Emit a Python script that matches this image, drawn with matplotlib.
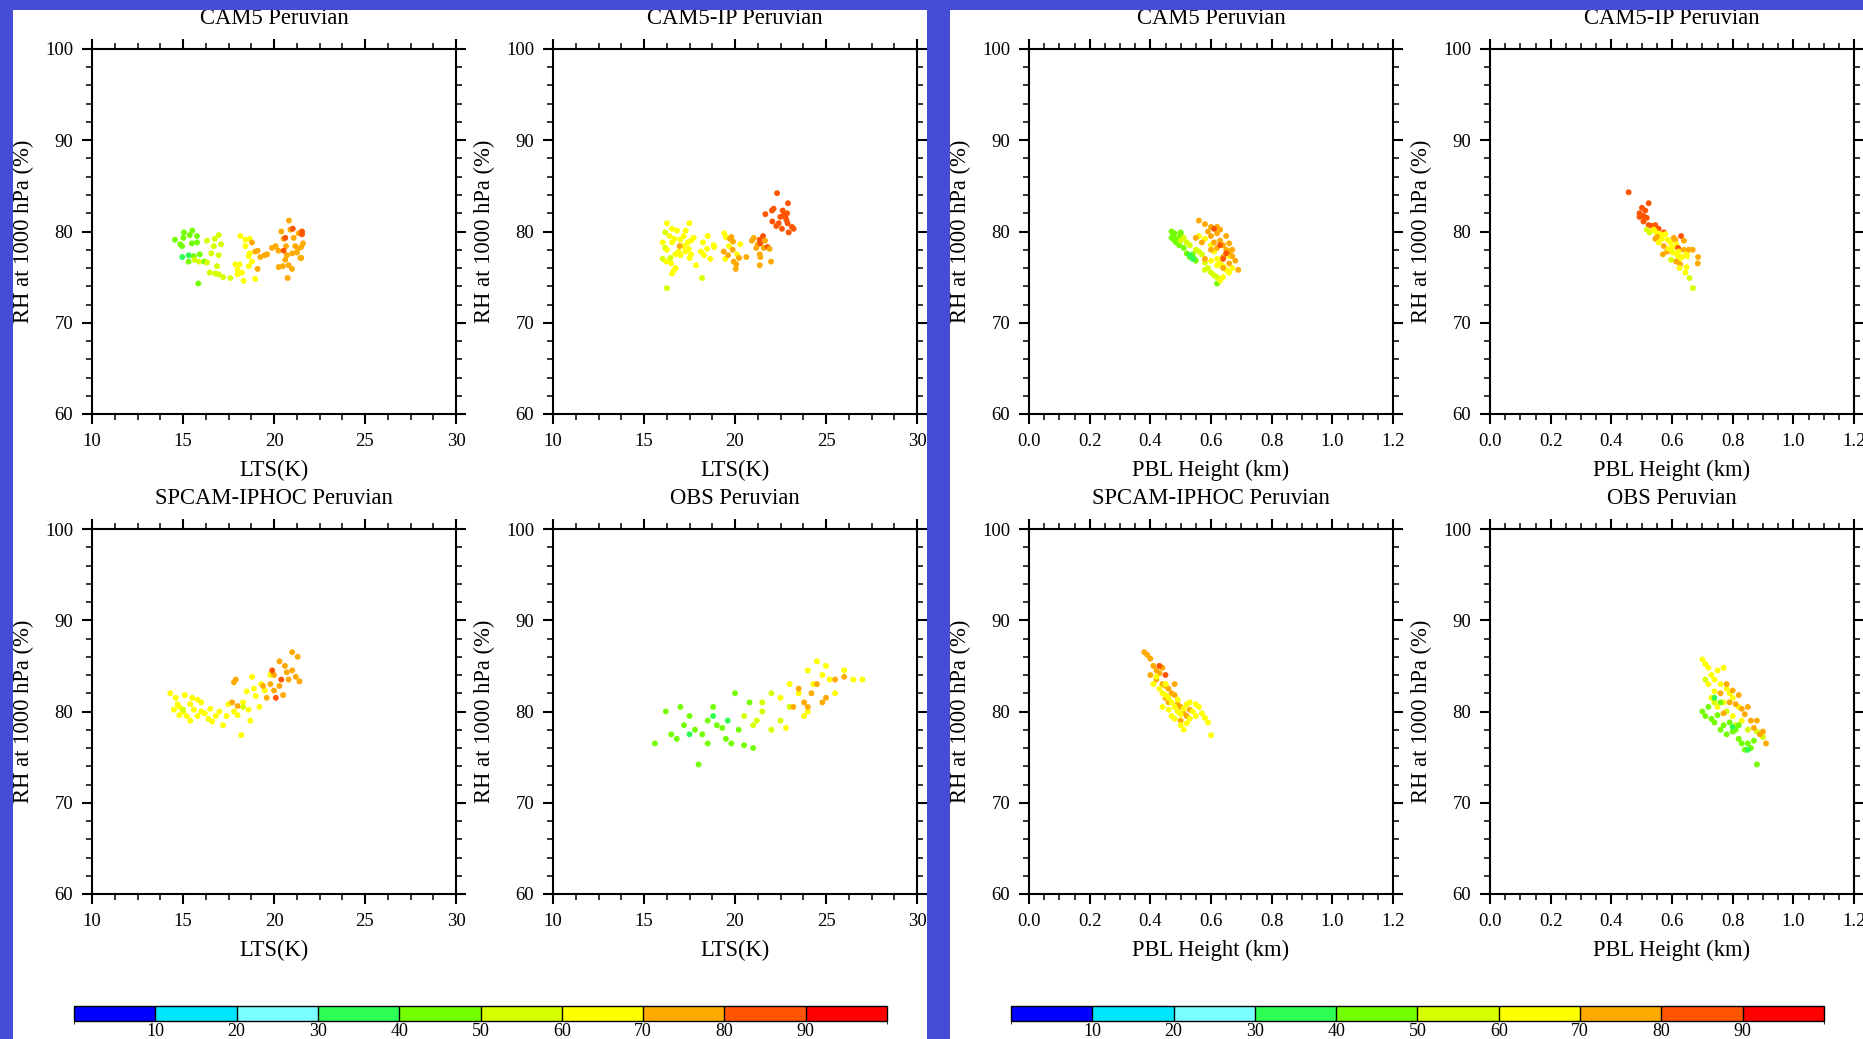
import numpy as np
import matplotlib
matplotlib.use("Agg")
import matplotlib.pyplot as plt
from matplotlib.colors import ListedColormap, BoundaryNorm
from matplotlib.patches import Rectangle
import matplotlib.cm as cm

# ---------------- data ----------------
# colour value (%) of each point, binned by 10 on the shared colour bar
cam5_lts = [14.56, 15.02, 15.05, 14.95, 14.85, 15.51, 15.37, 15.77, 15.49, 15.77, 14.96, 15.31, 15.31, 15.59, 15.92, 16.17, 15.84,
            15.64, 15.88, 16.32, 16.32, 16.74, 16.96, 16.69, 16.56, 17.09, 16.96, 16.47, 16.78, 16.87, 16.96, 17.20, 17.60,
            18.15, 18.43, 18.43, 18.66, 17.88, 18.11, 18.00, 18.24, 18.33, 18.61, 18.61, 18.79, 18.97, 18.00, 18.66,
            18.79, 18.97, 19.10, 19.10, 19.25, 19.49, 19.62, 19.89, 20.09, 20.24, 20.40, 20.53, 20.66, 20.71, 20.49, 20.26,
            20.62, 20.81, 20.75, 20.82, 20.90, 21.08, 21.17, 21.26, 21.36, 20.99, 21.45, 21.50, 21.59, 21.32, 21.50, 21.00,
            21.03, 20.62, 20.53, 21.54, 21.54]
cam5_lts_rh = [79.1, 79.3, 79.9, 78.4, 78.6, 80.1, 79.6, 79.5, 78.7, 78.8, 77.2, 77.4, 76.7, 77.3, 77.5, 76.7, 74.3,
               76.9, 76.7, 76.6, 79.0, 79.2, 79.6, 78.4, 77.6, 78.6, 77.4, 75.5, 75.4, 76.2, 75.3, 75.0, 74.9,
               79.5, 79.1, 78.4, 79.2, 76.4, 76.4, 75.8, 75.5, 74.6, 77.3, 76.2, 76.7, 74.8, 75.3, 77.6,
               78.8, 77.8, 77.9, 75.9, 77.2, 77.4, 77.5, 78.2, 78.4, 77.9, 80.0, 79.2, 78.4, 77.4, 76.2, 76.1,
               76.9, 76.3, 74.9, 81.2, 80.2, 79.3, 78.4, 77.7, 79.8, 75.9, 77.1, 78.3, 78.7, 78.1, 77.1, 77.6,
               80.3, 79.3, 77.9, 80.0, 79.7]
cam5_lts_cf = [45, 45, 45, 45, 45, 45, 45, 45, 45, 45, 35, 35, 45, 45, 45, 45, 45,
               55, 55, 55, 55, 55, 55, 55, 55, 55, 55, 55, 55, 55, 55, 55, 55,
               65, 65, 65, 65, 65, 65, 65, 65, 65, 65, 65, 65, 65, 65, 65,
               75, 75, 75, 75, 75, 75, 75, 75, 75, 75, 75, 75, 75, 75, 75, 75,
               75, 75, 75, 75, 75, 75, 75, 75, 75, 75, 75, 75, 75, 75, 75, 75,
               85, 85, 85, 85, 85]

cam5ip_lts = [16.26, 16.17, 16.54, 16.81, 16.03, 16.17, 16.26, 16.41, 16.54, 16.67, 17.00, 17.18, 17.29, 17.49, 17.40, 17.58,
              17.73, 17.18, 16.90, 16.72, 17.00, 17.27, 17.45, 17.51, 17.58, 16.03, 16.23, 16.45, 16.50, 16.74, 16.63, 16.54,
              16.26, 17.86, 18.19, 18.24, 18.50, 18.46, 18.30, 18.64, 18.13, 18.83, 18.86,
              16.96, 19.41, 19.49, 19.38, 19.47, 19.62, 19.71, 19.80, 19.89, 19.67, 19.87, 19.93, 20.07, 20.04, 20.11, 20.29,
              20.22, 20.62, 20.93, 21.03, 21.17, 21.25, 21.36, 21.39, 21.54, 21.65, 21.58, 21.36, 21.39, 21.36, 21.79, 21.90,
              21.98,
              21.67, 22.03, 22.12, 22.31, 22.05, 22.27, 22.40, 22.49, 22.62, 22.67, 22.77, 22.86, 22.91, 22.89, 22.58, 22.95,
              23.13, 23.22, 22.82]
cam5ip_lts_rh = [80.9, 79.9, 80.3, 80.1, 78.8, 78.2, 78.0, 79.5, 78.8, 79.2, 79.1, 79.5, 80.1, 80.9, 78.8, 79.0,
                 79.3, 78.4, 77.8, 77.5, 77.4, 77.8, 78.1, 77.1, 77.5, 77.0, 76.7, 77.1, 76.5, 76.0, 75.7, 75.4,
                 73.8, 76.3, 74.9, 78.8, 79.5, 78.1, 77.4, 77.0, 77.8, 78.5, 78.3,
                 78.4, 79.8, 79.4, 77.8, 77.0, 77.4, 79.2, 79.4, 78.9, 78.4, 78.0, 76.7, 76.4, 75.9, 77.5, 78.6,
                 77.1, 77.2, 79.0, 79.3, 78.2, 78.6, 79.1, 78.7, 79.5, 79.0, 78.2, 77.5, 77.2, 76.3, 78.3, 78.1,
                 76.7,
                 81.9, 82.3, 82.5, 84.2, 81.1, 80.6, 80.9, 81.6, 82.3, 81.8, 81.6, 82.0, 83.1, 80.9, 80.3, 79.9,
                 80.5, 80.3, 81.3]
cam5ip_lts_cf = [65, 55, 65, 65, 65, 55, 65, 65, 65, 65, 65, 65, 65, 65, 65, 65,
                 65, 65, 65, 65, 65, 65, 65, 65, 65, 55, 65, 55, 65, 65, 65, 65,
                 55, 65, 55, 65, 65, 65, 65, 65, 65, 65, 65,
                 75, 65, 65, 75, 65, 75, 75, 75, 75, 65, 75, 75, 75, 75, 65, 65,
                 75, 75, 75, 75, 75, 75, 85, 85, 85, 75, 75, 75, 75, 75, 85, 75,
                 75,
                 85, 85, 85, 85, 85, 85, 85, 85, 85, 85, 85, 85, 85, 85, 85, 85,
                 85, 85, 85]

spcam_lts = [14.3, 14.6, 14.8, 15.0, 15.2, 15.1, 15.4, 15.6, 15.8, 16.0, 16.2, 16.5, 16.8, 17.0, 17.2, 16.6, 15.4, 14.5,
             14.8, 15.8, 17.5, 17.8, 18.0, 18.3, 18.5, 18.8, 19.0, 19.3, 18.2, 18.6, 19.5, 19.8,
             15.5, 16.0, 14.7, 16.4, 17.4, 18.9, 19.2, 18.7,
             17.8, 17.9, 17.7, 18.0, 19.8, 20.0, 20.3, 20.5, 20.6, 20.8, 21.0, 21.0, 21.3, 20.3, 20.0, 21.2, 19.6,
             19.4, 20.7, 21.4,
             20.1, 19.9, 20.4, 15.0, 18.3]
spcam_lts_rh = [82.0, 81.5, 80.5, 80.0, 79.5, 81.8, 80.8, 80.2, 81.3, 80.0, 79.8, 80.3, 79.5, 80.0, 78.5, 78.9, 79.0, 80.2,
                79.6, 79.5, 80.8, 80.0, 79.6, 81.0, 82.2, 83.8, 81.7, 83.0, 77.4, 80.2, 82.3, 84.0,
                81.5, 81.0, 80.8, 79.2, 79.5, 82.5, 80.5, 79.0,
                83.2, 83.5, 81.0, 80.6, 83.0, 84.0, 82.8, 81.8, 85.0, 83.5, 84.5, 86.5, 86.0, 85.5, 82.3, 83.8, 81.5,
                82.8, 84.3, 83.3,
                81.5, 84.5, 83.5, 80.2, 80.5]
spcam_lts_cf = [65] * 40 + [75] * 20 + [85] * 3 + [55] * 2

obs_lts = [15.6, 16.2, 16.5, 16.8, 17.2, 17.5, 17.8, 18.0, 18.2, 18.5, 18.8, 19.0, 19.3, 19.5, 19.8, 20.0, 20.2, 20.5,
           20.8, 21.0, 18.5, 17.0, 17.5, 18.8, 19.6,
           20.5, 21.0, 21.5, 21.5, 22.0, 22.5, 23.0, 22.0, 21.2,
           22.5, 23.0, 23.5, 24.0, 24.5, 24.8, 25.2, 24.0, 25.5, 26.0, 26.5, 27.0, 23.8, 22.8, 24.3, 25.0,
           23.5, 23.8, 24.2, 24.5, 25.0, 25.5, 26.0, 24.8, 24.0, 23.2]
obs_lts_rh = [76.5, 80.0, 77.5, 77.0, 78.5, 79.5, 78.0, 74.2, 77.5, 79.0, 80.5, 78.5, 78.2, 77.0, 76.5, 82.0, 78.0, 76.3,
              81.0, 76.0, 76.5, 80.5, 77.5, 79.5, 79.0,
              79.5, 78.5, 80.0, 81.0, 78.0, 79.0, 80.5, 82.0, 79.0,
              81.5, 83.0, 82.0, 84.5, 85.5, 84.0, 83.5, 80.0, 82.0, 84.5, 83.5, 83.5, 79.5, 78.2, 83.0, 85.0,
              82.5, 81.0, 82.0, 83.0, 81.5, 83.5, 83.8, 81.0, 80.5, 80.5]
obs_lts_cf = [45] * 22 + [35] * 3 + [55] * 9 + [65] * 16 + [75] * 10

cam5_pbl = [0.47, 0.48, 0.475, 0.49, 0.485, 0.50, 0.48, 0.495, 0.51, 0.52, 0.53, 0.54, 0.545, 0.55, 0.62, 0.50, 0.47,
            0.53, 0.54,
            0.50, 0.52, 0.51, 0.53, 0.55, 0.56, 0.57, 0.58, 0.60, 0.61, 0.62, 0.59, 0.58,
            0.56, 0.58, 0.60, 0.62, 0.63, 0.64, 0.65, 0.66, 0.64, 0.63, 0.67, 0.62, 0.66, 0.61, 0.60,
            0.56, 0.58, 0.60, 0.59, 0.60, 0.62, 0.63, 0.61, 0.64, 0.65, 0.62, 0.66, 0.67, 0.68, 0.69, 0.64, 0.57, 0.55,
            0.60, 0.63, 0.65, 0.66, 0.67, 0.62, 0.58, 0.64, 0.66,
            0.61, 0.63, 0.65, 0.64]
cam5_pbl_rh = [80.0, 79.8, 79.5, 79.2, 78.8, 79.6, 79.0, 78.5, 78.2, 77.6, 77.2, 77.5, 77.0, 76.8, 74.3, 79.9, 79.3,
               77.4, 77.0,
               79.0, 78.8, 79.3, 78.5, 78.0, 77.8, 77.5, 76.6, 75.5, 75.2, 75.0, 76.0, 75.8,
               79.5, 79.2, 78.5, 77.0, 76.5, 76.2, 75.8, 75.5, 75.0, 74.6, 76.0, 76.3, 77.3, 77.8, 76.8,
               81.2, 80.8, 80.5, 80.0, 79.5, 79.8, 79.0, 78.8, 78.5, 78.0, 78.2, 77.8, 77.3, 76.8, 75.8, 77.2, 78.8, 79.3,
               78.0, 80.2, 79.5, 78.7, 78.0, 80.5, 77.0, 76.0, 76.5,
               80.3, 78.5, 77.6, 77.0]
cam5_pbl_cf = [45] * 17 + [35] * 2 + [55] * 13 + [65] * 15 + [75] * 27 + [85] * 4

cam5ip_pbl = [0.457, 0.523, 0.501, 0.512, 0.493, 0.506, 0.493, 0.517, 0.506, 0.523, 0.534, 0.545, 0.556, 0.573,
              0.517, 0.526, 0.540, 0.548, 0.562, 0.578, 0.551, 0.545, 0.567, 0.556, 0.573, 0.570, 0.584, 0.586,
              0.595, 0.600, 0.606, 0.611, 0.614, 0.603, 0.597, 0.617, 0.620, 0.622, 0.630, 0.639, 0.639, 0.648,
              0.650, 0.633, 0.622, 0.614, 0.627, 0.625, 0.648, 0.644, 0.658, 0.669, 0.655, 0.668, 0.686, 0.685, 0.589]
cam5ip_pbl_rh = [84.3, 83.1, 82.6, 82.3, 82.0, 81.7, 81.6, 81.5, 81.1, 80.7, 80.6, 80.7, 80.3, 79.9,
                 80.2, 79.9, 80.2, 79.9, 79.7, 79.7, 79.4, 79.2, 79.2, 78.8, 78.4, 77.5, 77.8, 79.1,
                 78.8, 78.2, 79.3, 79.1, 78.6, 77.7, 76.9, 77.4, 78.2, 77.8, 79.5, 79.0, 78.0, 77.6,
                 77.3, 77.2, 76.9, 76.7, 76.4, 76.0, 76.1, 75.5, 74.9, 73.8, 78.0, 78.0, 77.2, 76.5, 78.1]
cam5ip_pbl_cf = [85, 85, 85, 85, 85, 85, 85, 85, 85, 85, 85, 85, 85, 85,
                 55, 55, 65, 65, 65, 65, 75, 75, 65, 65, 75, 75, 75, 65,
                 65, 65, 75, 75, 65, 65, 55, 65, 85, 65, 85, 75, 75, 65,
                 65, 65, 65, 75, 75, 65, 65, 65, 55, 55, 75, 75, 75, 75, 65]

spcam_pbl = [0.38, 0.39, 0.40, 0.41, 0.42, 0.43, 0.42, 0.44, 0.45, 0.46, 0.47, 0.48, 0.45, 0.50, 0.51, 0.52, 0.50,
             0.53, 0.49, 0.44, 0.40, 0.46, 0.48,
             0.43, 0.45,
             0.41, 0.42, 0.43, 0.44, 0.45, 0.46, 0.47, 0.48, 0.49, 0.50, 0.51, 0.52, 0.53, 0.54, 0.55, 0.56, 0.57,
             0.58, 0.59, 0.60, 0.50, 0.51, 0.47, 0.48, 0.46, 0.44, 0.53, 0.55, 0.52, 0.49, 0.45]
spcam_pbl_rh = [86.5, 86.2, 85.8, 85.0, 84.5, 84.2, 83.5, 83.0, 82.8, 82.5, 82.0, 81.8, 81.5, 80.5, 79.8, 79.5, 79.0,
                80.2, 80.8, 84.8, 84.0, 81.0, 83.0,
                85.0, 84.0,
                83.0, 83.8, 82.5, 82.0, 81.8, 81.5, 81.0, 80.5, 80.0, 79.7, 80.3, 80.8, 79.2, 80.0, 79.5, 80.5, 79.8,
                79.3, 78.8, 77.4, 78.5, 78.0, 79.5, 79.2, 80.2, 80.5, 81.0, 80.8, 78.7, 81.3, 83.0]
spcam_pbl_cf = [75] * 23 + [85] * 2 + [65] * 31

obs_pbl = [0.70, 0.71, 0.72, 0.73, 0.74, 0.72, 0.75, 0.77, 0.76, 0.78, 0.79, 0.74, 0.80, 0.82, 0.73, 0.77, 0.75, 0.80,
           0.83,
           0.71, 0.74, 0.78, 0.81, 0.85, 0.88, 0.90,
           0.76, 0.78, 0.79, 0.80, 0.82, 0.83, 0.84, 0.86, 0.87, 0.89, 0.90, 0.91, 0.85, 0.81, 0.77, 0.88,
           0.70, 0.71, 0.72, 0.73, 0.74, 0.75, 0.76, 0.77, 0.78, 0.79, 0.80, 0.81, 0.82, 0.83, 0.84, 0.85, 0.86, 0.87,
           0.88, 0.76, 0.82,
           0.74, 0.80, 0.85]
obs_pbl_rh = [85.7, 85.2, 84.8, 84.0, 83.5, 83.0, 84.5, 84.8, 83.0, 82.5, 82.0, 82.2, 81.5, 80.5, 81.5, 81.0, 80.5, 79.5,
              79.0,
              83.5, 81.0, 80.0, 78.5, 78.0, 77.8, 77.2,
              82.0, 83.0, 81.0, 82.3, 81.8, 80.3, 79.7, 79.0, 78.2, 77.5, 77.8, 76.5, 80.5, 80.8, 79.8, 79.0,
              80.0, 79.5, 80.5, 79.2, 78.8, 79.6, 78.0, 78.5, 77.5, 78.8, 77.8, 78.0, 77.0, 76.5, 75.8, 76.5, 76.0, 76.8,
              74.2, 81.0, 78.5,
              81.5, 78.3, 75.8]
obs_pbl_cf = [65] * 19 + [55] * 7 + [75] * 16 + [45] * 21 + [35] * 3

titles = ["CAM5 Peruvian", "CAM5-IP Peruvian", "SPCAM-IPHOC Peruvian", "OBS Peruvian"]
bar_levels = [0, 10, 20, 30, 40, 50, 60, 70, 80, 90, 100]
bar_labels = [10, 20, 30, 40, 50, 60, 70, 80, 90]
bar_colors = ["#0000ff", "#00e6ff", "#78ffff", "#2dff55", "#73ff00",
              "#d7ff00", "#ffff00", "#ffaa00", "#ff5500", "#ff0000"]

# ---------------- figure ----------------
W, H = 1863, 1039
fig = plt.figure(figsize=(W / 100, H / 100), dpi=100)
fig.patch.set_facecolor("white")
SERIF = ["Liberation Serif", "DejaVu Serif"]
plt.rcParams["font.family"] = SERIF

cmap = ListedColormap(bar_colors)
norm = BoundaryNorm(bar_levels, cmap.N)


def frac_box(x0, y0, x1, y1):
    return [x0 / W, 1 - y1 / H, (x1 - x0) / W, (y1 - y0) / H]


def ftext(x, y, s, **kw):
    fig.text(x / W, 1 - y / H, s, fontfamily=SERIF, **kw)


def panel(x0, y0, xs, ys, cs, kind, title):
    w, h = 364, 365
    ax = fig.add_axes(frac_box(x0, y0, x0 + w, y0 + h))
    ax.scatter(xs, ys, c=cs, cmap=cmap, norm=norm, s=18, linewidths=0, zorder=3)
    if kind == "lts":
        ax.set_xlim(10, 30)
        ax.set_xticks([10, 15, 20, 25, 30])
        ax.set_xticks(np.arange(10, 30.01, 1.25), minor=True)
        ax.set_xticklabels(["10", "15", "20", "25", "30"])
        xlabel = "LTS(K)"
    else:
        ax.set_xlim(0, 1.2)
        ax.set_xticks(np.arange(0, 1.21, 0.2))
        ax.set_xticks(np.arange(0, 1.21, 0.05), minor=True)
        ax.set_xticklabels(["0.0", "0.2", "0.4", "0.6", "0.8", "1.0", "1.2"])
        xlabel = "PBL Height (km)"
    ax.set_ylim(60, 100)
    ax.set_yticks([60, 70, 80, 90, 100])
    ax.set_yticks(np.arange(60, 100.1, 2), minor=True)
    ax.set_yticklabels(["60", "70", "80", "90", "100"])
    for sp in ax.spines.values():
        sp.set_linewidth(1.5)
    ax.tick_params(which="both", direction="out", top=True, right=True,
                   labeltop=False, labelright=False)
    ax.tick_params(which="major", length=7.5, width=1.5, pad=6, labelsize=13.5)
    ax.tick_params(which="minor", length=4, width=1.1)
    for lab in ax.get_xticklabels() + ax.get_yticklabels():
        lab.set_fontfamily(SERIF)
    cx = x0 + w / 2
    ftext(cx, y0 - 31, title, ha="center", va="center", fontsize=16.3)
    ftext(cx, y0 + h + 56, xlabel, ha="center", va="center", fontsize=16.3)
    ftext(x0 - 69, y0 + h / 2, "RH at 1000 hPa (%)", ha="center", va="center",
          rotation=90, fontsize=16.3)
    return ax


lts_sets = [(cam5_lts, cam5_lts_rh, cam5_lts_cf), (cam5ip_lts, cam5ip_lts_rh, cam5ip_lts_cf),
            (spcam_lts, spcam_lts_rh, spcam_lts_cf), (obs_lts, obs_lts_rh, obs_lts_cf)]
pbl_sets = [(cam5_pbl, cam5_pbl_rh, cam5_pbl_cf), (cam5ip_pbl, cam5ip_pbl_rh, cam5ip_pbl_cf),
            (spcam_pbl, spcam_pbl_rh, spcam_pbl_cf), (obs_pbl, obs_pbl_rh, obs_pbl_cf)]

cols = [92, 553]
rows = [49, 529]
shift = 937
for k in range(4):
    r, c = divmod(k, 2)
    panel(cols[c], rows[r], *lts_sets[k], "lts", titles[k])
    panel(cols[c] + shift, rows[r], *pbl_sets[k], "pbl", titles[k])

# colour bars under each half
for off in (0, shift):
    cax = fig.add_axes(frac_box(74 + off, 1006, 887 + off, 1021))
    cb = fig.colorbar(cm.ScalarMappable(norm=norm, cmap=cmap), cax=cax,
                      orientation="horizontal", drawedges=True, ticks=bar_labels)
    cb.outline.set_linewidth(1.0)
    cb.dividers.set_linewidth(1.0)
    cax.tick_params(length=0, pad=1.5, labelsize=13)
    cax.set_xticklabels([str(v) for v in bar_labels])
    for lab in cax.get_xticklabels():
        lab.set_fontfamily(SERIF)

# blue frame around the two halves
blue = "#464cd6"
for (x0, y0, x1, y1) in [(0, 0, W, 10), (0, 0, 13, H), (927, 0, 950, H)]:
    fig.add_artist(Rectangle((x0 / W, 1 - y1 / H), (x1 - x0) / W, (y1 - y0) / H,
                             transform=fig.transFigure, facecolor=blue,
                             edgecolor="none", zorder=10))

fig.savefig("out.png", dpi=100, facecolor="white")
